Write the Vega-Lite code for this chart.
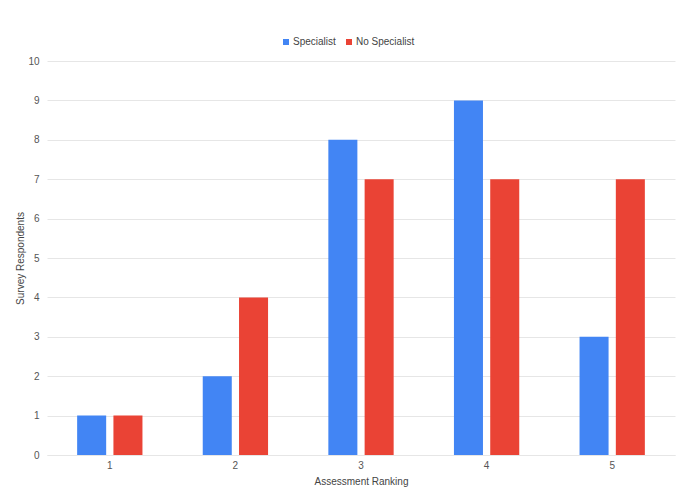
{
  "$schema": "https://vega.github.io/schema/vega-lite/v6.json",
  "width": 628,
  "height": 394,
  "autosize": {"type": "none"},
  "padding": {"left": 47, "top": 61, "right": 13, "bottom": 45},
  "background": "#ffffff",
  "data": {
    "values": [
      {"rank": "1", "group": "Specialist", "count": 1},
      {"rank": "1", "group": "No Specialist", "count": 1},
      {"rank": "2", "group": "Specialist", "count": 2},
      {"rank": "2", "group": "No Specialist", "count": 4},
      {"rank": "3", "group": "Specialist", "count": 8},
      {"rank": "3", "group": "No Specialist", "count": 7},
      {"rank": "4", "group": "Specialist", "count": 9},
      {"rank": "4", "group": "No Specialist", "count": 7},
      {"rank": "5", "group": "Specialist", "count": 3},
      {"rank": "5", "group": "No Specialist", "count": 7}
    ]
  },
  "mark": {"type": "bar"},
  "encoding": {
    "x": {
      "field": "rank",
      "type": "nominal",
      "scale": {"paddingInner": 0.48, "paddingOuter": 0.24},
      "axis": {
        "title": "Assessment Ranking",
        "labelAngle": 0,
        "ticks": false,
        "domain": true,
        "domainColor": "#e6e6e6",
        "labelPadding": 5,
        "titlePadding": 6
      }
    },
    "xOffset": {
      "field": "group",
      "type": "nominal",
      "sort": ["Specialist", "No Specialist"],
      "scale": {"paddingInner": 0.2, "paddingOuter": 0}
    },
    "y": {
      "field": "count",
      "type": "quantitative",
      "scale": {"domain": [0, 10]},
      "axis": {
        "title": "Survey Respondents",
        "values": [0, 1, 2, 3, 4, 5, 6, 7, 8, 9, 10],
        "ticks": false,
        "domain": false,
        "labelPadding": 8,
        "titlePadding": 2
      }
    },
    "color": {
      "field": "group",
      "type": "nominal",
      "sort": ["Specialist", "No Specialist"],
      "scale": {"domain": ["Specialist", "No Specialist"], "range": ["#4285F4", "#EA4335"]},
      "legend": {
        "title": null,
        "orient": "none",
        "direction": "horizontal",
        "legendX": 234,
        "legendY": -24,
        "symbolType": "square",
        "symbolSize": 36,
        "symbolStrokeWidth": 0,
        "labelFontSize": 10,
        "labelColor": "#444444",
        "columnPadding": 8,
        "labelOffset": 2
      }
    }
  },
  "config": {
    "font": "Liberation Sans",
    "view": {"stroke": null},
    "axis": {
      "labelFont": "Liberation Sans",
      "titleFont": "Liberation Sans",
      "labelFontSize": 10,
      "titleFontSize": 10,
      "titleFontWeight": "normal",
      "labelColor": "#555555",
      "titleColor": "#444444",
      "gridColor": "#e6e6e6",
      "gridWidth": 1
    },
    "legend": {"labelFont": "Liberation Sans"}
  }
}
